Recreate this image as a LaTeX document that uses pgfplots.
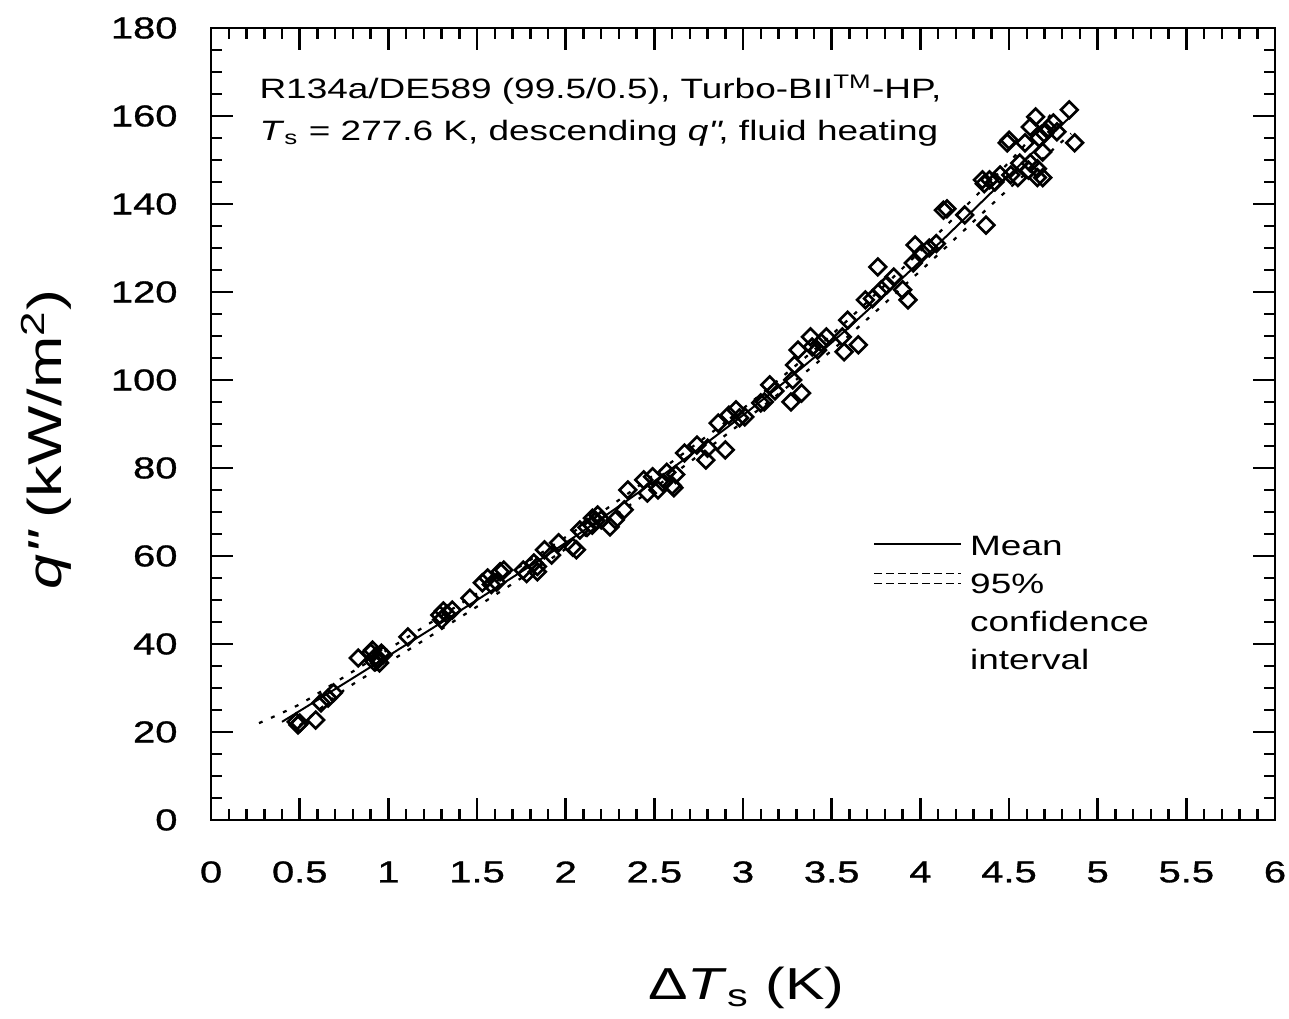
\documentclass[border=0pt]{standalone}
\usepackage{fontspec}
\setmainfont{Liberation Sans}[FakeStretch=1.32]
\newfontfamily\tickfont{Liberation Sans}[FakeStretch=1.32, FakeBold=1]
\usepackage{pgfplots}
\pgfplotsset{compat=1.18}
\pgfplotstableread{
x y
0.48 22.3
0.49 21.6
0.50 22.0
0.59 22.7
0.62 26.6
0.66 27.7
0.69 28.9
0.83 36.8
0.90 38.0
0.91 38.6
0.92 36.0
0.93 37.2
0.94 36.4
0.95 35.7
0.96 37.9
0.97 37.5
1.11 41.6
1.29 46.6
1.30 45.5
1.31 47.5
1.33 46.8
1.36 47.7
1.46 50.4
1.53 53.9
1.56 55.0
1.58 53.5
1.61 54.0
1.63 56.4
1.65 56.8
1.76 56.8
1.78 56.0
1.82 58.4
1.84 56.4
1.84 57.6
1.88 61.4
1.92 60.2
1.96 63.0
2.04 62.0
2.06 61.4
2.08 65.9
2.12 66.5
2.15 68.6
2.15 67.0
2.17 68.0
2.18 69.3
2.20 68.2
2.25 66.6
2.28 68.2
2.33 70.5
2.35 75.0
2.44 77.3
2.46 74.3
2.49 78.0
2.52 75.0
2.55 76.6
2.57 79.0
2.60 76.0
2.61 75.5
2.62 78.5
2.67 83.4
2.74 85.2
2.79 81.8
2.80 84.5
2.90 84.1
2.86 90.2
2.92 92.0
2.96 93.2
2.98 91.4
3.01 91.6
3.10 94.8
3.12 95.0
3.15 98.9
3.18 97.5
3.27 95.0
3.33 97.0
3.28 100.0
3.29 103.4
3.31 106.8
3.38 109.8
3.39 107.5
3.42 106.8
3.44 108.5
3.47 109.8
3.56 109.8
3.57 106.4
3.65 108.0
3.59 113.6
3.69 118.2
3.73 118.5
3.76 125.7
3.78 120.5
3.81 121.6
3.85 123.4
3.93 118.2
3.90 120.5
3.96 126.6
3.97 130.7
4.01 128.9
4.05 130.0
4.09 131.0
4.13 138.6
4.15 138.9
4.25 137.5
4.37 135.2
4.35 145.5
4.36 144.6
4.39 145.5
4.42 145.0
4.45 146.6
4.51 146.6
4.55 146.0
4.61 147.7
4.66 146.0
4.69 146.0
4.49 153.9
4.50 154.5
4.59 153.9
4.62 157.5
4.65 159.8
4.67 155.0
4.69 151.8
4.70 156.0
4.72 157.2
4.75 158.4
4.77 156.4
4.84 161.4
4.87 153.9
4.56 149.3
4.62 149.3
4.66 148.0
}\points
\pgfplotstableread{
x y
0.40 22.3
0.75 31.0
1.00 37.3
1.50 50.0
2.00 63.0
2.50 77.0
3.00 92.0
3.50 108.5
4.00 127.0
4.50 146.5
4.85 160.0
}\meanline
\pgfplotstableread{
x y
0.27 22.0
0.50 26.3
0.75 32.5
1.00 38.8
1.50 51.5
2.00 64.3
2.50 78.5
3.00 93.5
3.50 110.3
4.00 129.3
4.50 149.5
4.75 161.0
}\upperline
\pgfplotstableread{
x y
0.50 21.5
0.75 29.5
1.00 35.8
1.50 48.5
2.00 61.6
2.50 75.5
3.00 90.5
3.50 106.7
4.00 124.8
4.50 143.5
4.85 156.0
}\lowerline
\begin{document}
\begin{tikzpicture}
\begin{axis}[name=ax, scale only axis, width=380pt, height=282.86pt,
  xmin=0, xmax=6, ymin=0, ymax=180,
  xtick={0,0.5,...,6}, ytick={0,20,...,180},
  minor x tick num=4, minor y tick num=3,
  tick align=inside, major tick length=7.8pt, minor tick length=3.9pt,
  axis line style={line width=1pt},
  tick style={black, line width=0.9pt},
  /pgf/number format/assume math mode=true,
  /pgf/number format/fixed,
  xticklabel style={font=\tickfont\fontsize{10.8}{12}\selectfont, anchor=center, inner sep=0pt, yshift=-18.6pt},
  yticklabel style={font=\tickfont\fontsize{10.8}{12}\selectfont, anchor=east, inner sep=0pt, xshift=-11.8pt},
  xlabel={Δ\textit{T}\textsubscript{s} (K)},
  ylabel={\textit{q\textquotedbl} (kW/m\textsuperscript{2})},
  xlabel style={font=\fontsize{16}{19}\selectfont, at={(axis description cs:0.503,-0.227)}, anchor=base},
  ylabel style={font=\fontsize{17}{20}\selectfont, at={(axis description cs:-0.155,0.48)}, anchor=center},
  legend style={draw=none, fill=none, at={(axis cs:3.73,66.6)}, anchor=north west, inner sep=0pt,
    font=\fontsize{10}{12}\selectfont, cells={anchor=west}, row sep=0pt,
    nodes={text height=8pt, text depth=1.6pt, inner ysep=2pt, inner xsep=3pt}},
]
\addplot[only marks, mark=square, mark size=2.1pt, mark options={rotate=45, line width=0.95pt, black}, forget plot] table[x=x,y=y] {\points};
\addplot[black, line width=0.7pt, smooth, legend image code/.code={\draw[black, line width=0.7pt] (0pt,1pt) -- (31pt,1pt);}] table[x=x,y=y] {\meanline};
\addlegendentry{Mean}
\addplot[black, line width=0.8pt, smooth, dash pattern=on 1.4pt off 3.3pt, legend image code/.code={\draw[black, line width=0.5pt, dash pattern=on 2.9pt off 1.4pt] (0pt,0.4pt) -- (31pt,0.4pt); \draw[black, line width=0.5pt, dash pattern=on 2.9pt off 1.4pt] (0pt,3.9pt) -- (31pt,3.9pt);}] table[x=x,y=y] {\upperline};
\addlegendentry{95\%}
\addplot[black, line width=0.8pt, smooth, dash pattern=on 1.4pt off 3.3pt, forget plot] table[x=x,y=y] {\lowerline};
\addlegendimage{empty legend}
\addlegendentry{confidence}
\addlegendimage{empty legend}
\addlegendentry{interval}
\node[anchor=north west, inner sep=0pt, align=left, font=\fontsize{10}{15}\selectfont] at (axis cs:0.27,169.5) {R134a/DE589 (99.5/0.5), Turbo-BII\textsuperscript{TM}-HP,\\ \textit{T}\textsubscript{s} = 277.6 K, descending \textit{q\textquotedbl}, fluid heating};
\end{axis}
\path ([shift={(-75.4pt,-70.4pt)}]ax.south west) rectangle ([shift={(5pt,10pt)}]ax.north east);
\end{tikzpicture}
\end{document}
